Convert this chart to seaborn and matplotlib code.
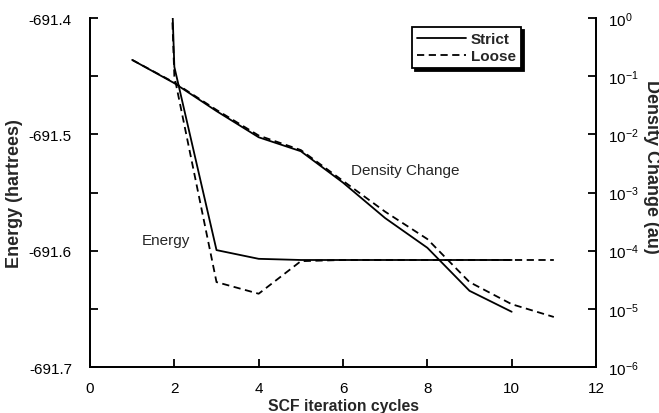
import numpy as np
import pandas as pd
import matplotlib
matplotlib.use('Agg')
import matplotlib.pyplot as plt
import seaborn as sns
from matplotlib.lines import Line2D
from matplotlib.ticker import MultipleLocator, FixedLocator, NullLocator

# SCF convergence
cycles_strict = [1, 2, 3, 4, 5, 6, 7, 8, 9, 10]
cycles_loose = [1, 2, 3, 4, 5, 6, 7, 8, 9, 10, 11]

energy_strict = [-690.34, -691.442, -691.5995, -691.607, -691.608, -691.608,
                 -691.608, -691.608, -691.608, -691.608]
energy_loose = [-690.43, -691.45, -691.627, -691.637, -691.609, -691.608,
                -691.608, -691.608, -691.608, -691.608, -691.608]

# log10 of density change
logdens_strict = [-0.72, -1.12, -1.60, -2.05, -2.29, -2.83, -3.44, -3.95, -4.69, -5.05]
logdens_loose = [-0.72, -1.11, -1.58, -2.02, -2.27, -2.80, -3.33, -3.80, -4.54, -4.92, -5.14]

sns.set_style('ticks')
plt.rcParams['font.family'] = ['Liberation Sans', 'DejaVu Sans']
plt.rcParams['mathtext.fontset'] = 'custom'
plt.rcParams['mathtext.rm'] = 'Liberation Sans'
plt.rcParams['mathtext.it'] = 'Liberation Sans'

fig = plt.figure(figsize=(6.59, 4.14), dpi=100)
ax = fig.add_axes([0.1366, 0.1111, 0.7678, 0.8429])
ax2 = ax.twinx()

lw = 1.3
dash = (4, 2.5)

sns.lineplot(x=cycles_strict, y=energy_strict, ax=ax, color='black', lw=lw)
sns.lineplot(x=cycles_loose, y=energy_loose, ax=ax, color='black', lw=lw,
             linestyle=(0, dash))

dens_strict = 10.0 ** np.array(logdens_strict)
dens_loose = 10.0 ** np.array(logdens_loose)
sns.lineplot(x=cycles_strict, y=dens_strict, ax=ax2, color='black', lw=lw)
sns.lineplot(x=cycles_loose, y=dens_loose, ax=ax2, color='black', lw=lw,
             linestyle=(0, dash))

ax.set_xlim(0, 12)
ax.set_ylim(-691.7, -691.4)
ax2.set_yscale('log')
ax2.set_ylim(1e-6, 1)

ax.xaxis.set_major_locator(MultipleLocator(2))
ax.yaxis.set_major_locator(FixedLocator([-691.7, -691.65, -691.6, -691.55, -691.5, -691.45, -691.4]))
ax.set_yticklabels(['-691.7', '', '-691.6', '', '-691.5', '', '-691.4'])
ax2.yaxis.set_major_locator(FixedLocator([10.0 ** k for k in range(-6, 1)]))
ax2.yaxis.set_minor_locator(NullLocator())

for a in (ax, ax2):
    a.spines['top'].set_visible(False)
    for s in a.spines.values():
        s.set_linewidth(1.3)
        s.set_color('black')
    a.tick_params(direction='in', length=6, width=1.3, labelsize=11, colors='black')
ax.tick_params(axis='x', pad=10)
ax.tick_params(axis='y', pad=13)
ax2.tick_params(axis='y', pad=9)

ax.set_xlabel('SCF iteration cycles', fontsize=11.3, fontweight='bold', labelpad=2)
ax.set_ylabel('Energy (hartrees)', fontsize=13, fontweight='bold', labelpad=4)
ax2.set_ylabel('Density Change (au)', fontsize=13, fontweight='bold', rotation=270,
               va='center')
ax2.yaxis.set_label_coords(1.11, 0.576)

ax.text(1.23, -691.591, 'Energy', fontsize=11, ha='left', va='center')
ax.text(6.2, -691.531, 'Density Change', fontsize=11, ha='left', va='center')

handles = [Line2D([], [], color='black', lw=lw),
           Line2D([], [], color='black', lw=lw, linestyle=(0, dash))]
leg = ax.legend(handles, ['Strict', 'Loose'], loc='upper right',
                bbox_to_anchor=(0.867, 0.997), fancybox=False, framealpha=1,
                edgecolor='black', shadow={'color': 'black', 'alpha': 1},
                prop={'weight': 'bold', 'size': 11}, handlelength=3.2,
                handletextpad=0.3, borderpad=0.35, labelspacing=0.2)
leg.get_frame().set_linewidth(1.3)

fig.savefig('out.png', dpi=100)
